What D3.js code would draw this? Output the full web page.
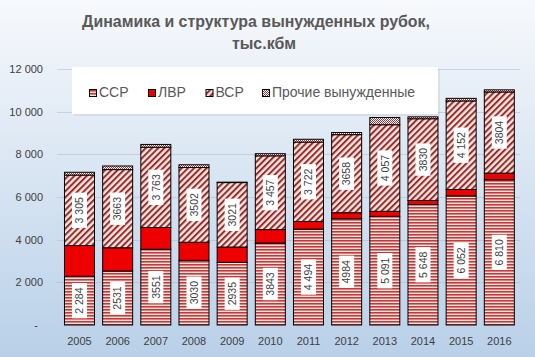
<!DOCTYPE html>
<html><head><meta charset="utf-8">
<script src="https://cdnjs.cloudflare.com/ajax/libs/d3/7.8.5/d3.min.js"></script>
<style>html,body{margin:0;padding:0;overflow:hidden;background:#fff}</style>
</head><body>
<svg id="c" width="535" height="357"></svg>
<script>
const years = ["2005","2006","2007","2008","2009","2010","2011","2012","2013","2014","2015","2016"];
const ssr   = [2284,2531,3551,3030,2935,3843,4494,4984,5091,5648,6052,6810];
const lvr   = [1440,1090,1020,850,720,630,360,280,240,190,300,310];
const vsr   = [3305,3663,3763,3502,3021,3457,3722,3658,4057,3830,4152,3804];
const other = [130,170,130,130,20,100,130,100,340,90,120,100];
const ssrLabels = ["2 284","2531","3551","3030","2935","3843","4 494","4984","5 091","5 648","6 052","6 810"];
const vsrLabels = ["3 305","3663","3 763","3502","3021","3 457","3 722","3658","4 057","3830","4 152","3804"];
const seriesNames = ["ССР","ЛВР","ВСР","Прочие вынужденные"];
const yTicks = [0,2000,4000,6000,8000,10000,12000];
const yTickLabels = ["-","2 000","4 000","6 000","8 000","10 000","12 000"];
const titleLines = ["Динамика и структура вынужденных рубок,","тыс.кбм"];

const svg = d3.select("#c");
const defs = svg.append("defs");
const bg = defs.append("linearGradient").attr("id","bg").attr("x1",0).attr("y1",0).attr("x2",0).attr("y2",1);
bg.append("stop").attr("offset","0%").attr("stop-color","#f7f9fc");
bg.append("stop").attr("offset","100%").attr("stop-color","#b9d0e8");

// patterns
const pS = defs.append("pattern").attr("id","pSSR").attr("patternUnits","userSpaceOnUse").attr("width",4).attr("height",3);
pS.append("rect").attr("width",4).attr("height",3).attr("fill","#fde2de");
pS.append("rect").attr("width",4).attr("height",1.6).attr("fill","#c43a3a");
const pV = defs.append("pattern").attr("id","pVSR").attr("patternUnits","userSpaceOnUse").attr("width",4.4).attr("height",4.4).attr("patternTransform","rotate(45)");
pV.append("rect").attr("width",4.4).attr("height",4.4).attr("fill","#fde6e1");
pV.append("rect").attr("width",2.0).attr("height",4.4).attr("fill","#962c2c");
const pO = defs.append("pattern").attr("id","pOTH").attr("patternUnits","userSpaceOnUse").attr("width",2).attr("height",2);
pO.append("rect").attr("width",2).attr("height",2).attr("fill","#fff");
pO.append("rect").attr("width",1).attr("height",1).attr("fill","#a33");
pO.append("rect").attr("x",1).attr("y",1).attr("width",1).attr("height",1).attr("fill","#a33");
const fills = ["url(#pSSR)","#ee0000","url(#pVSR)","url(#pOTH)"];

svg.append("rect").attr("width",535).attr("height",357).attr("fill","url(#bg)");

const x = d3.scaleBand().domain(years).range([60.4,518.4]).paddingInner(0.214).paddingOuter(0.107);
const y = d3.scaleLinear().domain([0,12000]).range([325,69]);

// gridlines
svg.append("g").selectAll("line").data(yTicks.slice(1)).join("line")
  .attr("x1",57).attr("x2",520).attr("y1",d=>Math.round(y(d))+0.5).attr("y2",d=>Math.round(y(d))+0.5)
  .attr("stroke","#9fb3c8").attr("stroke-opacity",0.45);

// y labels
svg.append("g").selectAll("text").data(yTicks).join("text")
  .attr("x",d=>d===0?38:43).attr("y",d=>y(d)).attr("dy","0.35em").attr("text-anchor","end")
  .attr("font-family","Liberation Sans, Arial, sans-serif").attr("font-size",11).attr("fill","#404040")
  .text((d,i)=>yTickLabels[i]);

// x labels
svg.append("g").selectAll("text").data(years).join("text")
  .attr("x",d=>x(d)+x.bandwidth()/2).attr("y",345).attr("text-anchor","middle")
  .attr("font-family","Liberation Sans, Arial, sans-serif").attr("font-size",11).attr("fill","#404040")
  .text(d=>d);

// stacked bars
const table = years.map((yr,i)=>({year:yr, s0:ssr[i], s1:lvr[i], s2:vsr[i], s3:other[i]}));
const stack = d3.stack().keys(["s0","s1","s2","s3"])(table);
const gBars = svg.append("g");
stack.forEach((layer,k)=>{
  gBars.append("g").selectAll("rect").data(layer).join("rect")
    .attr("x",d=>x(d.data.year)).attr("width",x.bandwidth())
    .attr("y",d=>y(d[1])).attr("height",d=>y(d[0])-y(d[1]))
    .attr("fill",fills[k]).attr("stroke","#000").attr("stroke-width",1);
});

// data labels
function addLabels(layer, labels){
  const g = svg.append("g");
  layer.forEach((d,i)=>{
    const cx = x(d.data.year)+x.bandwidth()/2;
    const cy = (y(d[0])+y(d[1]))/2;
    const gg = g.append("g").attr("transform",`translate(${cx},${cy}) rotate(-90)`);
    const r = gg.append("rect").attr("fill","#fff");
    const t = gg.append("text").attr("text-anchor","middle").attr("dy","0.35em")
      .attr("font-family","Liberation Sans, Arial, sans-serif").attr("font-size",10.5).attr("fill","#404040")
      .text(labels[i]);
    const L = t.node().getComputedTextLength()+9;
    r.attr("x",-L/2).attr("y",-7.5).attr("width",L).attr("height",15);
  });
}
addLabels(stack[0], ssrLabels);
addLabels(stack[2], vsrLabels);

// legend
svg.append("rect").attr("x",74).attr("y",69).attr("width",366).attr("height",47).attr("fill","#000").attr("opacity",0.06);
svg.append("rect").attr("x",72).attr("y",67).attr("width",366).attr("height",47).attr("fill","#fff");
const legX = [89.5,148.5,206,262.5];
const lg = svg.append("g");
seriesNames.forEach((n,i)=>{
  lg.append("rect").attr("x",legX[i]).attr("y",89.5).attr("width",7).attr("height",7)
    .attr("fill",fills[i]).attr("stroke","#000").attr("stroke-width",1);
  lg.append("text").attr("x",legX[i]+9.5).attr("y",97).attr("font-family","Liberation Sans, Arial, sans-serif")
    .attr("font-size",14).attr("fill","#595959").text(n);
});

// title
const t1 = svg.append("text").attr("x",256).attr("y",27).attr("text-anchor","middle")
  .attr("font-family","Liberation Sans, Arial, sans-serif").attr("font-weight","bold").attr("font-size",17).attr("fill","#595959")
  .text(titleLines[0]);
const w1 = t1.node().getComputedTextLength();
const fs = 17*348/w1;
t1.attr("font-size",fs);
svg.append("text").attr("x",264).attr("y",48.5).attr("text-anchor","middle")
  .attr("font-family","Liberation Sans, Arial, sans-serif").attr("font-weight","bold").attr("font-size",fs).attr("fill","#595959")
  .text(titleLines[1]);
</script>
</body></html>
